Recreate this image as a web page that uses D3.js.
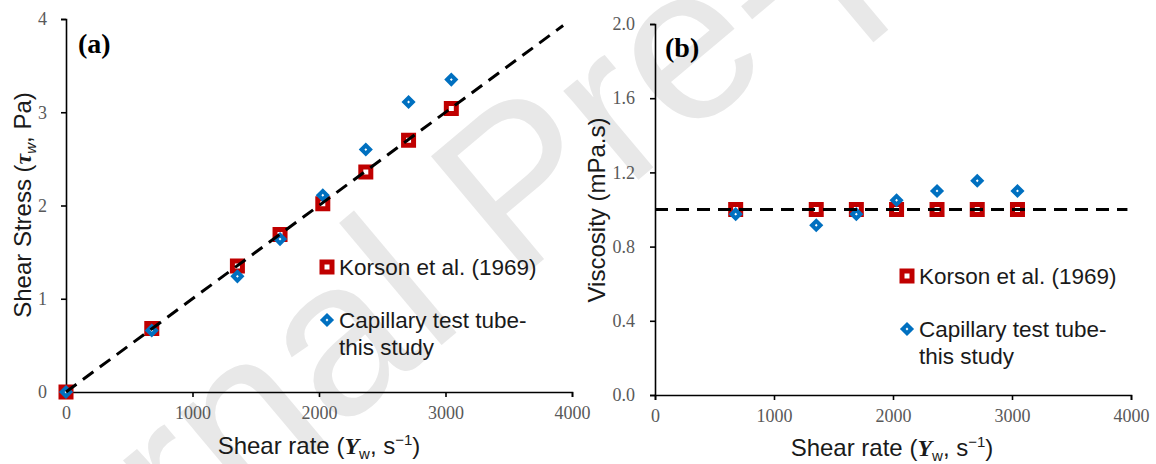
<!DOCTYPE html>
<html>
<head>
<meta charset="utf-8">
<script src="https://cdn.jsdelivr.net/npm/d3@7"></script>
<style>
  body { margin: 0; background: #fff; }
  .tick text { font-family: "Liberation Serif", "Times New Roman", serif; font-size: 18px; fill: #595959; }
  .domain, .tick line { stroke: #000; stroke-width: 1.6px; }
</style>
</head>
<body>
<script>
// shear rate (1/s) and stress / viscosity
var shearRate    = [0, 678, 1355, 1692, 2030, 2370, 2708, 3046];
var korsonStress = [0, 0.68, 1.35, 1.69, 2.02, 2.36, 2.70, 3.04];
var tubeStress   = [0, 0.66, 1.24, 1.64, 2.11, 2.60, 3.11, 3.35];

var viscRate   = [678, 1355, 1692, 2030, 2370, 2708, 3046];
var korsonVisc = [1.0, 1.0, 1.0, 1.0, 1.0, 1.0, 1.0];
var tubeVisc   = [0.975, 0.915, 0.975, 1.05, 1.10, 1.155, 1.10];

// dashed reference lines
var fitRateA = [0, 3930], fitStressA = [0, 3.93];
var fitRateB = [0, 3970], fitViscB = [1.0, 1.0];

var xTicks  = [0, 1000, 2000, 3000, 4000];
var yTicksA = [0, 1, 2, 3, 4];
var yTicksB = [0, 0.4, 0.8, 1.2, 1.6, 2.0];

var legendNames = ["Korson et al. (1969)", "Capillary test tube-", "this study"];

var red = "#C00000", blue = "#0070C0";

var svg = d3.select("body").append("svg")
    .attr("width", 1156)
    .attr("height", 464);

// watermark behind everything
svg.append("text")
    .attr("transform", "translate(515,180) rotate(-40)")
    .attr("text-anchor", "middle")
    .attr("dy", "0.36em")
    .style("font-family", "Liberation Sans, Arial, sans-serif")
    .style("font-size", "220px")
    .style("fill", "#e8e8e8")
    .text("Journal Pre-proof");

var squareSym = d3.symbol().type(d3.symbolSquare).size(100);
var diamondSym = d3.symbol().type(d3.symbolSquare).size(36);

function panel(opt) {
    var x = d3.scaleLinear().domain([0, 4000]).range(opt.xr);
    var y = d3.scaleLinear().domain(opt.yd).range(opt.yr);
    var g = svg.append("g");

    g.append("g")
        .attr("transform", "translate(0," + opt.yr[0] + ")")
        .call(d3.axisBottom(x).tickValues(xTicks).tickFormat(d3.format("d"))
            .tickSizeInner(5).tickSizeOuter(5).tickPadding(9));
    g.append("g")
        .attr("transform", "translate(" + opt.xr[0] + ",0)")
        .call(d3.axisLeft(y).tickValues(opt.yTicks).tickFormat(opt.yFmt)
            .tickSizeInner(5).tickSizeOuter(5).tickPadding(opt.yPad));

    // red squares
    g.append("g").selectAll("path")
        .data(opt.xs.map(function(d, i){ return [d, opt.red[i]]; }))
        .enter().append("path")
        .attr("d", squareSym)
        .attr("transform", function(d){ return "translate(" + x(d[0]) + "," + y(d[1]) + ")"; })
        .attr("fill", "#fff")
        .attr("stroke", red)
        .attr("stroke-width", 5);

    // blue diamonds
    g.append("g").selectAll("path")
        .data(opt.xs.map(function(d, i){ return [d, opt.blue[i]]; }))
        .enter().append("path")
        .attr("d", diamondSym)
        .attr("transform", function(d){ return "translate(" + x(d[0]) + "," + y(d[1]) + ") rotate(45)"; })
        .attr("fill", "#fff")
        .attr("stroke", blue)
        .attr("stroke-width", 4);

    // dashed line on top
    var line = d3.line().x(function(d){ return x(d[0]); }).y(function(d){ return y(d[1]); });
    g.append("path")
        .datum(opt.fx.map(function(d, i){ return [d, opt.fy[i]]; }))
        .attr("d", line)
        .attr("fill", "none")
        .attr("stroke", "#000")
        .attr("stroke-width", 3)
        .attr("stroke-dasharray", "13,8");

    // panel letter
    g.append("text")
        .attr("x", opt.xr[0] + opt.lab[0])
        .attr("y", opt.lab[1])
        .style("font-family", "Liberation Serif, Times New Roman, serif")
        .style("font-weight", "bold")
        .style("font-size", "28px")
        .text(opt.letter);

    // legend
    var lx = opt.leg[0], ly = opt.leg[1];
    g.append("path").attr("d", squareSym)
        .attr("transform", "translate(" + lx + "," + ly + ")")
        .attr("fill", "#fff").attr("stroke", red).attr("stroke-width", 5);
    g.append("path").attr("d", diamondSym)
        .attr("transform", "translate(" + lx + "," + (ly + 53) + ") rotate(45)")
        .attr("fill", "#fff").attr("stroke", blue).attr("stroke-width", 4);
    var lt = g.append("g")
        .style("font-family", "Liberation Sans, Arial, sans-serif")
        .style("font-size", "22.5px")
        .style("fill", "#1a1a1a");
    lt.append("text").attr("x", lx + 12).attr("y", ly).attr("dy", "0.36em").text(legendNames[0]);
    lt.append("text").attr("x", lx + 12).attr("y", ly + 53).attr("dy", "0.36em").text(legendNames[1]);
    lt.append("text").attr("x", lx + 12).attr("y", ly + 80).attr("dy", "0.36em").text(legendNames[2]);

    // x title: Shear rate (Υw, s−1)
    var xt = g.append("text")
        .attr("x", (opt.xr[0] + opt.xr[1]) / 2 + opt.xtOff)
        .attr("y", opt.xtY)
        .attr("text-anchor", "middle")
        .style("font-family", "Liberation Sans, Arial, sans-serif")
        .style("font-size", "24px")
        .style("fill", "#1a1a1a");
    xt.append("tspan").text("Shear rate (");
    xt.append("tspan").style("font-family", "Liberation Serif, serif").style("font-style", "italic")
        .style("font-weight", "bold").text("Υ");
    xt.append("tspan").attr("dy", 5).style("font-size", "15px").text("w");
    xt.append("tspan").attr("dy", -5).text(", s");
    xt.append("tspan").attr("dy", -9).style("font-size", "15px").text("−1");
    xt.append("tspan").attr("dy", 9).text(")");

    // y title
    var yt = g.append("text")
        .attr("transform", "translate(" + opt.ytX + "," + opt.ytY + ") rotate(-90)")
        .attr("text-anchor", "middle")
        .style("font-family", "Liberation Sans, Arial, sans-serif")
        .style("font-size", "24px")
        .style("fill", "#1a1a1a");
    opt.yTitle(yt);
}

panel({
    xr: [66, 572], yr: [392, 19], yd: [0, 4],
    yTicks: yTicksA, yFmt: d3.format("d"), yPad: 14,
    xs: shearRate, red: korsonStress, blue: tubeStress,
    fx: fitRateA, fy: fitStressA,
    letter: "(a)", lab: [12, 53],
    leg: [327, 267],
    xtOff: 0, xtY: 454,
    ytX: 31, ytY: 205,
    yTitle: function(t) {
        t.append("tspan").text("Shear Stress (");
        t.append("tspan").style("font-family", "Liberation Serif, serif").style("font-weight", "bold")
            .style("font-style", "italic").text("τ");
        t.append("tspan").attr("dy", 5).style("font-size", "15px").style("font-style", "italic").text("w");
        t.append("tspan").attr("dy", -5).text(", Pa)");
    }
});

panel({
    xr: [655, 1131], yr: [395, 24], yd: [0, 2],
    yTicks: yTicksB, yFmt: d3.format(".1f"), yPad: 15,
    xs: viscRate, red: korsonVisc, blue: tubeVisc,
    fx: fitRateB, fy: fitViscB,
    letter: "(b)", lab: [10, 57],
    leg: [907, 276],
    xtOff: -1, xtY: 456,
    ytX: 605, ytY: 210,
    yTitle: function(t) {
        t.text("Viscosity (mPa.s)");
    }
});
</script>
</body>
</html>
